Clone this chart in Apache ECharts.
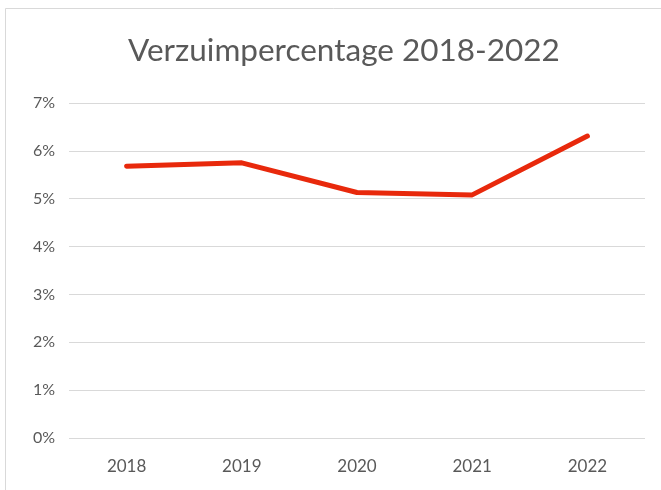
<!DOCTYPE html>
<html><head><meta charset="utf-8">
<script src="https://cdn.jsdelivr.net/npm/echarts@6/dist/echarts.min.js"></script>
<style>html,body{margin:0;padding:0;background:#fff}#c{width:661px;height:490px}</style>
</head><body><div id="c"></div>
<script>
const categories = ['2018','2019','2020','2021','2022'];
const verzuim = [5.68, 5.75, 5.13, 5.08, 6.31];
const yTicks = [0,1,2,3,4,5,6,7];
const chart = echarts.init(document.getElementById('c'), null, {renderer:'canvas'});
chart.setOption({
  animation:false,
  backgroundColor:'#fff',
  graphic:[{type:'rect',shape:{x:5.5,y:8.5,width:700,height:600},style:{fill:'none',stroke:'#d9d9d9',lineWidth:1},silent:true}],
  title:{text:'Verzuimpercentage 2018-2022',left:123,top:30,
    textStyle:{fontFamily:'Lato',fontSize:31.5,fontWeight:'normal',color:'#595959'}},
  grid:{left:69,right:16,top:103,bottom:52,containLabel:false},
  xAxis:{type:'category',data:categories,boundaryGap:true,
    axisLine:{show:false},axisTick:{show:false},
    axisLabel:{color:'#595959',fontFamily:'Lato',fontSize:17,margin:20}},
  yAxis:{type:'value',min:0,max:7,interval:1,
    axisLine:{show:false},axisTick:{show:false},
    splitLine:{lineStyle:{color:'#d9d9d9',width:1}},
    axisLabel:{color:'#595959',fontFamily:'Lato',fontSize:16,margin:14,
      formatter:v=>yTicks.includes(v)?v+'%':''}},
  series:[{type:'line',data:verzuim,showSymbol:false,symbol:'none',
    lineStyle:{color:'#e8290c',width:5,cap:'round',join:'round'}}]
});
</script></body></html>
